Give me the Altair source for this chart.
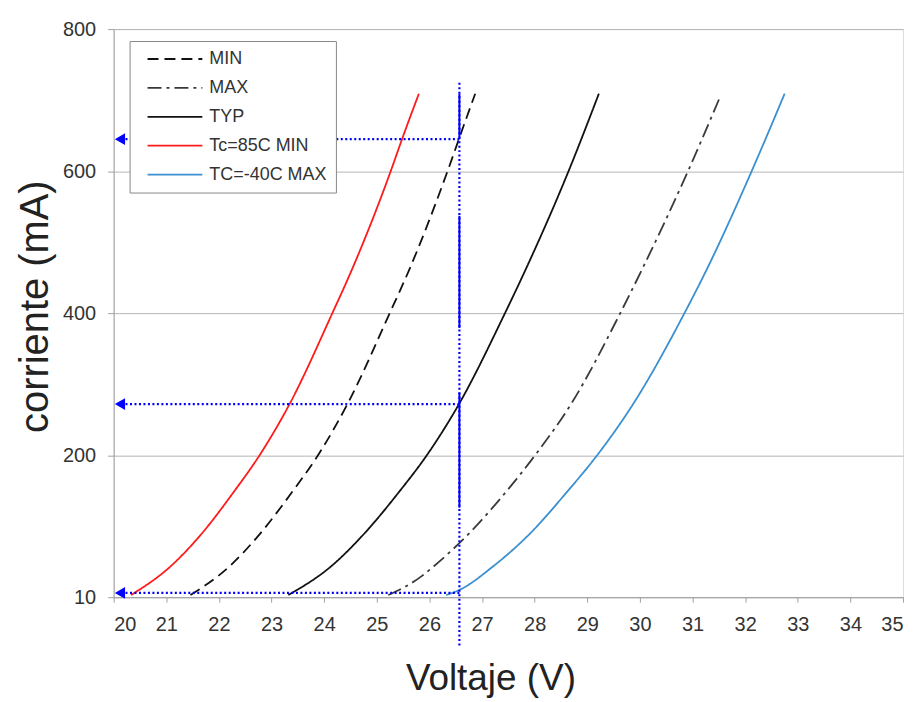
import altair as alt
import pandas as pd

# ---- data ----
series_names = ["MIN", "MAX", "TYP", "Tc=85C MIN", "TC=-40C MAX"]

min_v = [21.46, 22.21, 22.80, 23.38, 23.91, 24.45, 25.24, 25.61, 26.35, 26.56, 26.87]
min_i = [3, 44, 91, 147, 203, 273, 399, 460, 601, 645, 709]

max_v = [25.22, 25.86, 26.09, 26.77, 27.44, 28.04, 28.70, 29.62, 30.03, 30.92, 31.52]
max_i = [3, 30, 44, 91, 147, 203, 273, 399, 460, 601, 704]

typ_v = [23.32, 24.14, 24.78, 25.41, 25.98, 26.57, 27.43, 27.82, 28.65, 29.22]
typ_i = [3, 44, 91, 147, 203, 273, 399, 460, 601, 709]

hot_v = [20.33, 21.09, 21.69, 22.27, 22.80, 23.35, 24.15, 24.52, 25.27, 25.48, 25.80]
hot_i = [3, 44, 91, 147, 203, 273, 399, 460, 601, 645, 709]

cold_v = [26.32, 26.59, 27.22, 27.93, 28.60, 29.22, 29.88, 30.84, 31.26, 32.13, 32.75]
cold_i = [3, 11, 44, 91, 147, 203, 273, 399, 460, 601, 709]

x_ticks = list(range(20, 36))
y_ticks = [0, 200, 400, 600, 800]

# annotation (blue) values
ref_voltage = 26.57
arrow_currents = [645, 272, 6]
arrow_end_voltage = 20.12
vline_top = 727
vline_bottom = -68
vline_solid_from = [645, 379, 126]
vline_solid_to = [709, 537, 288]

# ---- tables ----
rows = []
for name, vs, is_ in [("MIN", min_v, min_i), ("MAX", max_v, max_i), ("TYP", typ_v, typ_i),
                      ("Tc=85C MIN", hot_v, hot_i), ("TC=-40C MAX", cold_v, cold_i)]:
    for k, (v, i) in enumerate(zip(vs, is_)):
        rows.append({"serie": name, "V": v, "I": i, "k": k})
df = pd.DataFrame(rows)

arrows = pd.DataFrame({"I": arrow_currents, "V0": [ref_voltage] * 3, "V1": [arrow_end_voltage] * 3})
vfull = pd.DataFrame({"V": [ref_voltage], "I0": [vline_bottom], "I1": [vline_top]})
vsolid = pd.DataFrame({"V": [ref_voltage] * 3, "I0": vline_solid_from, "I1": vline_solid_to})

FONT = "Liberation Sans"
colors = ["#111111", "#3a3a3a", "#111111", "#ff1a1a", "#3a90d0"]
dashes = [[11, 6], [14, 5, 3, 5], [1, 0], [1, 0], [1, 0]]
widths = [1.8, 1.8, 3, 2, 2]

legend = alt.Legend(
    title=None, orient="none", legendX=16, legendY=12,
    fillColor="white", strokeColor="#888888", padding=9,
    symbolType="M0,0H10", symbolSize=121, labelOffset=53,
    labelFont=FONT, labelFontSize=18, labelColor="#333333",
    rowPadding=11, labelLimit=300,
)

xs = alt.Scale(domain=[20, 35], nice=False)
ys = alt.Scale(domain=[0, 800], nice=False)

x_axis = alt.Axis(
    values=x_ticks, title="Voltaje (V)", grid=False,
    labelFont=FONT, labelFontSize=20, labelColor="#333333", labelPadding=12,
    tickColor="#a0a0a0", tickSize=5, domainColor="#a0a0a0",
    titleFont=FONT, titleFontSize=37, titleFontWeight="normal", titleColor="#222222",
    titleX=378, titleY=93, titleBaseline="alphabetic", titleAnchor="middle",
)
y_axis = alt.Axis(
    values=y_ticks, title="corriente (mA)", grid=True, gridColor="#b5b5b5",
    labelExpr="datum.value == 0 ? '10' : datum.label",
    labelFont=FONT, labelFontSize=20, labelColor="#333333", labelPadding=12,
    tickColor="#a0a0a0", tickSize=6, domainColor="#a0a0a0",
    titleFont=FONT, titleFontSize=40, titleFontWeight="normal", titleColor="#222222",
    titleX=-66, titleY=278, titleBaseline="alphabetic", titleAngle=270,
)

curves = alt.Chart(df).mark_line(interpolate="monotone").encode(
    x=alt.X("V:Q", scale=xs, axis=x_axis),
    y=alt.Y("I:Q", scale=ys, axis=y_axis),
    color=alt.Color("serie:N", scale=alt.Scale(domain=series_names, range=colors), legend=legend),
    strokeDash=alt.StrokeDash("serie:N", scale=alt.Scale(domain=series_names, range=dashes), legend=legend),
    strokeWidth=alt.StrokeWidth("serie:N", scale=alt.Scale(domain=series_names, range=widths), legend=legend),
    order="k:Q",
)

hlines = alt.Chart(arrows).mark_rule(color="#0000ff", strokeWidth=2.2, strokeDash=[2, 2.5]).encode(
    x=alt.X("V0:Q", scale=xs), x2="V1:Q", y=alt.Y("I:Q", scale=ys)
)
heads = alt.Chart(arrows).mark_point(shape="triangle-left", filled=True, size=140, color="#0000ff", opacity=1).encode(
    x=alt.X("V1:Q", scale=xs), y=alt.Y("I:Q", scale=ys)
)
vdot = alt.Chart(vfull).mark_rule(color="#0000ff", strokeWidth=2.2, strokeDash=[2, 2.5]).encode(
    x=alt.X("V:Q", scale=xs), y=alt.Y("I0:Q", scale=ys), y2="I1:Q"
)
vsol = alt.Chart(vsolid).mark_rule(color="#0000ff", strokeWidth=2).encode(
    x=alt.X("V:Q", scale=xs), y=alt.Y("I0:Q", scale=ys), y2="I1:Q"
)

chart = alt.layer(curves, hlines, heads, vdot, vsol).properties(
    width=792, height=570,
    autosize=alt.AutoSizeParams(type="none"),
    padding={"left": 106, "top": 20, "right": 10, "bottom": 104},
).configure_view(stroke="#a0a0a0").configure(background="white")

chart.save("out.html", embed_options={"renderer": "svg", "actions": False})
